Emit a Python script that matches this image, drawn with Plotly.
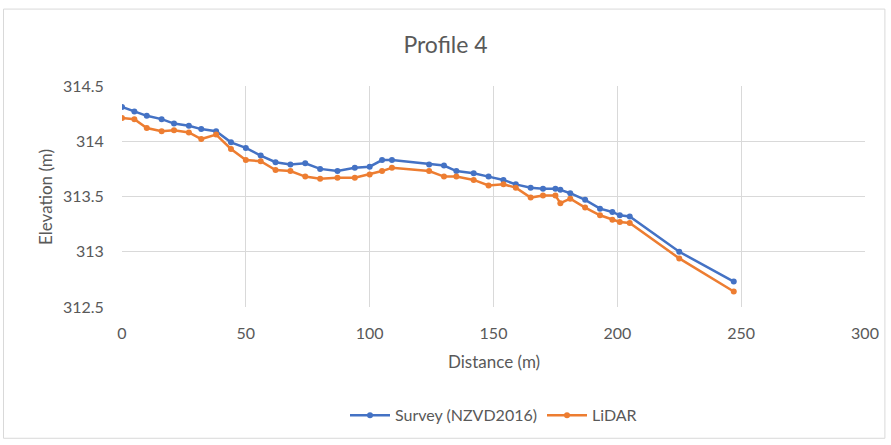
import plotly.graph_objects as go

# Distance along profile (m)
distance = [0, 5, 10, 16, 21, 27, 32, 38, 44, 50, 56, 62, 68, 74, 80, 87, 94, 100, 105, 109,
            124, 130, 135, 142, 148, 154, 159, 165, 170, 175, 177, 181, 187, 193, 198, 201, 205,
            225, 247]

# Elevations (m)
survey = [314.31, 314.27, 314.23, 314.20, 314.16, 314.14, 314.11, 314.09, 313.99, 313.94,
          313.87, 313.81, 313.79, 313.80, 313.75, 313.73, 313.76, 313.77, 313.83, 313.83,
          313.79, 313.78, 313.73, 313.71, 313.68, 313.65, 313.61, 313.58, 313.57, 313.57,
          313.56, 313.53, 313.47, 313.39, 313.36, 313.33, 313.32, 313.00, 312.73]
lidar = [314.21, 314.20, 314.12, 314.09, 314.10, 314.08, 314.02, 314.06, 313.93, 313.83,
         313.82, 313.74, 313.73, 313.68, 313.66, 313.67, 313.67, 313.70, 313.73, 313.76,
         313.73, 313.68, 313.68, 313.65, 313.60, 313.61, 313.58, 313.49, 313.51, 313.51,
         313.44, 313.48, 313.40, 313.33, 313.29, 313.27, 313.26, 312.94, 312.64]

x_ticks = [0, 50, 100, 150, 200, 250, 300]
y_ticks = [312.5, 313, 313.5, 314, 314.5]

FONT = "Lato"
GREY = "#595959"

fig = go.Figure()
fig.add_trace(go.Scatter(x=distance, y=survey, name="Survey (NZVD2016)", mode="lines+markers",
                         line=dict(color="#4472C4", width=2.5),
                         marker=dict(size=6, color="#4472C4")))
fig.add_trace(go.Scatter(x=distance, y=lidar, name="LiDAR", mode="lines+markers",
                         line=dict(color="#ED7D31", width=2.5),
                         marker=dict(size=6, color="#ED7D31")))

fig.update_layout(
    width=891, height=445,
    margin=dict(l=122, r=23, t=86, b=135),
    paper_bgcolor="white", plot_bgcolor="white",
    font=dict(family=FONT, color=GREY, size=15),
    title=dict(text="Profile 4", x=0.5, xanchor="center", y=0.9, yanchor="middle",
               font=dict(size=23, color=GREY, family=FONT)),
    showlegend=True,
    legend=dict(orientation="h", x=0.5, xanchor="center", y=-0.49, yanchor="middle",
                font=dict(size=16, color=GREY), itemwidth=40, tracegroupgap=20),
    xaxis=dict(range=[0, 300], tickvals=x_ticks, showgrid=True, gridcolor="#d9d9d9",
               gridwidth=1, zeroline=False, showline=False,
               ticks="outside", ticklen=12, tickcolor="rgba(0,0,0,0)",
               tickfont=dict(size=16, color=GREY)),
    yaxis=dict(range=[312.5, 314.5], tickvals=y_ticks, ticktext=[str(v) for v in y_ticks],
               showgrid=True, gridcolor="#d9d9d9", gridwidth=1, zeroline=False, showline=False,
               ticks="outside", ticklen=14, tickcolor="rgba(0,0,0,0)",
               tickfont=dict(size=16, color=GREY)),
    annotations=[
        dict(text="Distance (m)", xref="paper", yref="paper", x=0.5, y=-0.245,
             xanchor="center", yanchor="middle", showarrow=False,
             font=dict(size=17, color=GREY, family=FONT)),
        dict(text="Elevation (m)", xref="paper", yref="paper", x=-0.103, y=0.5,
             xanchor="center", yanchor="middle", showarrow=False, textangle=-90,
             font=dict(size=17, color=GREY, family=FONT)),
    ],
    shapes=[
        dict(type="rect", xref="paper", yref="paper", x0=-0.1595, x1=1.0268, y0=-0.594, y1=1.348,
             line=dict(color="#d9d9d9", width=1), fillcolor="rgba(0,0,0,0)", layer="below"),
    ],
)

fig.write_html("out.html")
